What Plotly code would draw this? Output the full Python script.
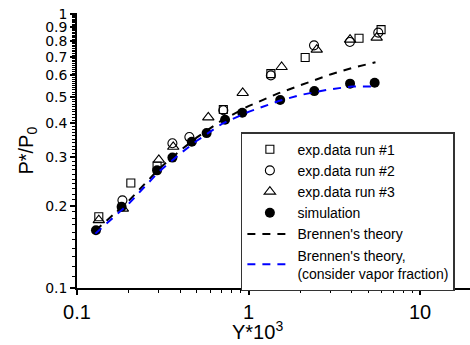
import plotly.graph_objects as go
import numpy as np

# ---- data ----
run1_x = [0.134, 0.206, 0.293, 0.713, 1.35, 2.14, 4.41, 5.93]
run1_y = [0.182, 0.242, 0.279, 0.449, 0.607, 0.695, 0.817, 0.879]

run2_x = [0.184, 0.36, 0.452, 0.713, 1.35, 2.41, 3.9, 5.71]
run2_y = [0.209, 0.338, 0.356, 0.446, 0.598, 0.770, 0.792, 0.857]

run3_x = [0.134, 0.185, 0.30, 0.364, 0.583, 0.925, 1.56, 2.50, 3.91, 5.59]
run3_y = [0.177, 0.195, 0.294, 0.328, 0.42, 0.516, 0.642, 0.743, 0.808, 0.822]

sim_x = [0.129, 0.182, 0.293, 0.36, 0.467, 0.57, 0.73, 0.92, 1.53, 2.42, 3.91, 5.44]
sim_y = [0.1625, 0.198, 0.269, 0.2995, 0.342, 0.368, 0.412, 0.437, 0.486, 0.524, 0.558, 0.5625]

theory_x = [0.128, 0.2, 0.3, 0.4, 0.5, 0.7, 1.0, 1.5, 2.0, 3.0, 4.0, 5.5]
brennen_y = [0.162, 0.208, 0.272, 0.318, 0.355, 0.41, 0.462, 0.515, 0.55, 0.603, 0.636, 0.668]
vapor_y = [0.158, 0.203, 0.266, 0.31, 0.345, 0.398, 0.44, 0.482, 0.507, 0.532, 0.545, 0.545]

names = ["exp.data run #1", "exp.data run #2", "exp.data run #3", "simulation",
         "Brennen's theory", "Brennen's theory,<br>(consider vapor fraction)"]

x_major = [0.1, 1, 10]
x_major_text = ["0.1", "1", "10"]
y_major = [0.1, 0.2, 0.3, 0.4, 0.5, 0.6, 0.7, 0.8, 0.9, 1.0]
y_major_text = ["0.1", "0.2", "0.3", "0.4", "0.5", "0.6", "0.7", "0.8", "0.9", "1"]

FONT = "Liberation Sans, Arial, sans-serif"

fig = go.Figure()
mk_line = dict(color="black", width=1.1)
fig.add_trace(go.Scatter(x=run1_x, y=run1_y, mode="markers", name=names[0],
                         marker=dict(symbol="square-open", size=8, color="black", line=mk_line)))
fig.add_trace(go.Scatter(x=run2_x, y=run2_y, mode="markers", name=names[1],
                         marker=dict(symbol="circle-open", size=9, color="black", line=mk_line)))
fig.add_trace(go.Scatter(x=run3_x, y=run3_y, mode="markers", name=names[2],
                         marker=dict(symbol="triangle-up-open", size=10, color="black", line=mk_line)))
fig.add_trace(go.Scatter(x=sim_x, y=sim_y, mode="markers", name=names[3],
                         marker=dict(symbol="circle", size=10, color="black")))
fig.add_trace(go.Scatter(x=theory_x, y=brennen_y, mode="lines", name=names[4],
                         line=dict(color="black", width=2, dash="8px,7px")))
fig.add_trace(go.Scatter(x=theory_x, y=vapor_y, mode="lines", name=names[5],
                         line=dict(color="#0000ff", width=2, dash="8px,7px")))

y_minor = [round(v, 2) for v in np.arange(0.11, 1.0, 0.01) if round(v, 2) not in y_major]
x_minor = [m * d for d in (0.1, 1) for m in range(2, 10)]

fig.update_xaxes(type="log", range=[-1, 1.2915], showline=True, linecolor="black", linewidth=1.5,
                 showgrid=False, zeroline=False, tickmode="array", tickvals=x_major,
                 ticktext=x_major_text, ticks="outside", ticklen=5, tickwidth=1.5, tickcolor="black",
                 tickfont=dict(family=FONT, size=20, color="black"),
                 minor=dict(tickmode="array", tickvals=x_minor, ticks="outside", ticklen=3,
                            tickwidth=1, tickcolor="black", showgrid=False))
fig.update_yaxes(type="log", range=[-1, 0.0047], showline=True, linecolor="black", linewidth=1.5,
                 showgrid=False, zeroline=False, tickmode="array", tickvals=y_major,
                 ticktext=y_major_text, ticks="outside", ticklen=5, tickwidth=1.5, tickcolor="black",
                 tickfont=dict(family="DejaVu Sans, sans-serif", size=14, color="black"),
                 minor=dict(tickmode="array", tickvals=y_minor, ticks="outside", ticklen=3,
                            tickwidth=1, tickcolor="black", showgrid=False))

fig.add_annotation(text="Y*10<sup>3</sup>", xref="paper", yref="paper", x=0.46, y=-0.153,
                   xanchor="center", yanchor="middle", showarrow=False,
                   font=dict(family=FONT, size=20, color="black"))
fig.add_annotation(text="P*/P<sub>0</sub>", xref="paper", yref="paper", x=-0.127, y=0.5,
                   xanchor="center", yanchor="middle", textangle=-90, showarrow=False,
                   font=dict(family=FONT, size=20, color="black"))

fig.update_layout(
    width=470, height=345, margin=dict(l=77, r=0, t=13, b=57),
    plot_bgcolor="white", paper_bgcolor="white",
    font=dict(family=FONT, color="black"),
    legend=dict(x=0.417, y=0.567, xanchor="left", yanchor="top", bgcolor="white",
                bordercolor="#333333", borderwidth=1.5, font=dict(family=FONT, size=14, color="black"),
                itemwidth=45, tracegroupgap=0),
    showlegend=True,
)

fig.write_html("out.html")
